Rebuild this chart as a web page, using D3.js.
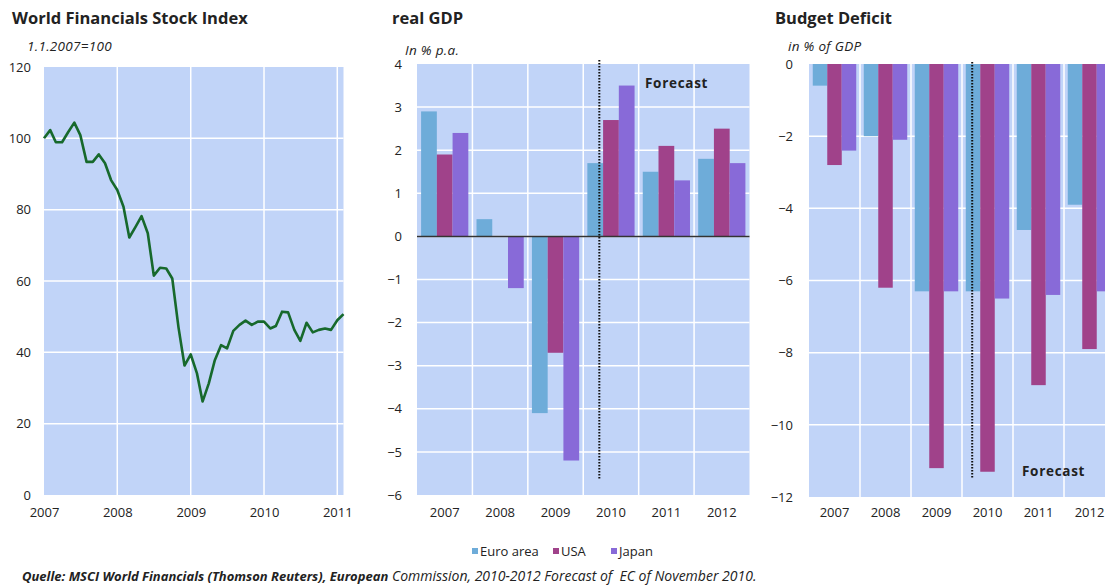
<!DOCTYPE html>
<html><head><meta charset="utf-8">
<script src="https://cdn.jsdelivr.net/npm/d3@7"></script>
<style>
body{margin:0;background:#fff;}
svg{display:block;}
text{font-family:"Open Sans",sans-serif;fill:#222;white-space:pre;}
</style></head>
<body><svg id="c" width="1105" height="585"></svg>
<script>
// ---------- DATA ----------
const stockStart = "2007-01-01";
const stockValues = [100,102.3,98.9,98.9,101.7,104.4,100.9,93.4,93.4,95.5,93,88.3,85.5,80.8,72.2,75.2,78.2,73.4,61.5,63.7,63.5,60.7,47,36.3,39.4,34.1,26.2,31.3,37.8,42,41.1,46,47.7,48.9,47.7,48.6,48.6,46.7,47.4,51.4,51.2,46.3,43.2,48.3,45.6,46.3,46.7,46.3,49,50.7];
const stockYTicks = [0,20,40,60,80,100,120];
const stockXTicks = ["2007","2008","2009","2010","2011"];

const years = ["2007","2008","2009","2010","2011","2012"];
const seriesNames = ["Euro area","USA","Japan"];
const gdpEuro  = [2.9, 0.4, -4.1, 1.7, 1.5, 1.8];
const gdpUSA   = [1.9, 0.0, -2.7, 2.7, 2.1, 2.5];
const gdpJapan = [2.4, -1.2, -5.2, 3.5, 1.3, 1.7];
const gdpTicks = [-6,-5,-4,-3,-2,-1,0,1,2,3,4];

const defEuro  = [-0.6, -2.0, -6.3, -6.3, -4.6, -3.9];
const defUSA   = [-2.8, -6.2, -11.2, -11.3, -8.9, -7.9];
const defJapan = [-2.4, -2.1, -6.3, -6.5, -6.4, -6.3];
const defTicks = [-12,-10,-8,-6,-4,-2,0];

// ---------- STYLE ----------
const colors = {"Euro area":"#6eacd9","USA":"#a0428a","Japan":"#886ad8"};
const bg = "#c1d4f8";
const svg = d3.select("#c");
const TITLE_FS = 16.5, SUB_FS = 13.5, TICK_FS = 13;

// ---------- LEFT PANEL: line ----------
(function(){
  const L=44,R=343.5,T=67,B=495;
  const parse = d3.timeParse("%Y-%m-%d");
  const start = parse(stockStart);
  const data = stockValues.map((v,i)=>({date:d3.timeMonth.offset(start,i),value:v}));
  const x = d3.scaleTime().domain([start, d3.timeMonth.offset(start, stockValues.length-1)]).range([L,R]);
  const y = d3.scaleLinear().domain([0,120]).range([B,T]);
  const g = svg.append("g");
  g.append("rect").attr("x",L).attr("y",T).attr("width",R-L).attr("height",B-T).attr("fill",bg);
  g.selectAll(".hg").data(stockYTicks.filter(t=>t>0&&t<120)).enter().append("line")
    .attr("x1",L).attr("x2",R).attr("y1",d=>y(d)).attr("y2",d=>y(d)).attr("stroke","#fff").attr("stroke-width",1.5);
  g.selectAll(".vg").data(stockXTicks.slice(1)).enter().append("line")
    .attr("x1",d=>x(parse(d+"-01-01"))).attr("x2",d=>x(parse(d+"-01-01"))).attr("y1",T).attr("y2",B)
    .attr("stroke","#fff").attr("stroke-width",1.5);
  const ya = d3.axisLeft(y).tickValues(stockYTicks).tickSize(0).tickPadding(0);
  const ay = g.append("g").attr("transform","translate(31,0)").call(ya);
  ay.select(".domain").remove();
  ay.selectAll("text").attr("font-size",TICK_FS).attr("font-family","Open Sans").attr("fill","#222");
  const xa = d3.axisBottom(x).tickValues(stockXTicks.map(d=>parse(d+"-01-01"))).tickFormat(d3.timeFormat("%Y")).tickSize(0).tickPadding(0);
  const ax = g.append("g").attr("transform","translate(0,508)").call(xa);
  ax.select(".domain").remove();
  ax.selectAll("text").attr("font-size",TICK_FS).attr("font-family","Open Sans").attr("fill","#222");
  g.append("path").datum(data).attr("fill","none").attr("stroke","#17692c").attr("stroke-width",2.6)
    .attr("stroke-linejoin","round")
    .attr("d",d3.line().x(d=>x(d.date)).y(d=>y(d.value)));
  svg.append("text").attr("x",12).attr("y",24).attr("font-size",TITLE_FS).attr("font-weight","bold").text("World Financials Stock Index");
  svg.append("text").attr("x",27).attr("y",51).attr("font-size",SUB_FS).attr("font-style","italic").attr("letter-spacing",0.3).text("1.1.2007=100");
})();

// ---------- BAR PANELS ----------
function barPanel(o){
  const x = d3.scaleBand().domain(years).range([o.L,o.R]).paddingInner(0).paddingOuter(0);
  const x1 = d3.scaleBand().domain(seriesNames).range([0,x.bandwidth()]).paddingInner(0).paddingOuter(0.26);
  const y = d3.scaleLinear().domain(o.domain).range([o.B,o.T]);
  const g = svg.append("g");
  g.append("rect").attr("x",o.L).attr("y",o.T).attr("width",o.R-o.L).attr("height",o.B-o.T).attr("fill",bg);
  g.selectAll(".hg").data(o.ticks.filter(t=>t>o.domain[0]&&t<o.domain[1])).enter().append("line")
    .attr("x1",o.L).attr("x2",o.R).attr("y1",d=>y(d)).attr("y2",d=>y(d)).attr("stroke","#fff").attr("stroke-width",1.5);
  g.selectAll(".vg").data(years.slice(1)).enter().append("line")
    .attr("x1",d=>x(d)).attr("x2",d=>x(d)).attr("y1",o.T).attr("y2",o.B).attr("stroke","#fff").attr("stroke-width",1.5);
  const rows = [];
  years.forEach((yr,i)=>seriesNames.forEach((s,j)=>rows.push({yr,s,v:o.series[j][i]})));
  g.selectAll(".bar").data(rows.filter(d=>d.v!==0)).enter().append("rect")
    .attr("x",d=>x(d.yr)+x1(d.s)).attr("width",x1.bandwidth())
    .attr("y",d=>y(Math.max(0,d.v))).attr("height",d=>Math.abs(y(d.v)-y(0)))
    .attr("fill",d=>colors[d.s]);
  if(o.zeroLine){
    g.append("line").attr("x1",o.L).attr("x2",o.R).attr("y1",y(0)).attr("y2",y(0)).attr("stroke","#333").attr("stroke-width",1.5);
  }
  const fx = x("2010")+o.fcFrac*x.bandwidth();
  g.append("line").attr("x1",fx).attr("x2",fx).attr("y1",o.fcTop).attr("y2",o.fcBot)
    .attr("stroke","#111").attr("stroke-width",2).attr("stroke-dasharray","1.6,1.4");
  g.append("text").attr("x",o.fcX).attr("y",o.fcY).attr("font-size",13.5).attr("font-weight","bold")
    .attr("letter-spacing",0.7).text("Forecast");
  const ya = d3.axisLeft(y).tickValues(o.ticks).tickSize(0).tickPadding(0);
  const ay = g.append("g").attr("transform",`translate(${o.labX},0)`).call(ya);
  ay.select(".domain").remove();
  ay.selectAll("text").attr("font-size",TICK_FS).attr("font-family","Open Sans").attr("fill","#222");
  const xa = d3.axisBottom(x).tickSize(0).tickPadding(0);
  const ax = g.append("g").attr("transform","translate(0,508)").call(xa);
  ax.select(".domain").remove();
  ax.selectAll("text").attr("font-size",TICK_FS).attr("font-family","Open Sans").attr("fill","#222");
  svg.append("text").attr("x",o.titleX).attr("y",24).attr("font-size",TITLE_FS).attr("font-weight","bold").text(o.title);
  svg.append("text").attr("x",o.subX).attr("y",o.subY).attr("font-size",SUB_FS).attr("font-style","italic").attr("letter-spacing",0.3).text(o.sub);
}

barPanel({L:417,R:749.5,T:64,B:495,domain:[-6,4],ticks:gdpTicks,series:[gdpEuro,gdpUSA,gdpJapan],
  zeroLine:true,fcFrac:0.29,fcTop:60,fcBot:479,fcX:645,fcY:88,labX:402,
  title:"real GDP",titleX:392,sub:"In % p.a.",subX:405,subY:55});

barPanel({L:809,R:1115,T:64,B:497,domain:[-12,0],ticks:defTicks,series:[defEuro,defUSA,defJapan],
  zeroLine:false,fcFrac:0.2,fcTop:62,fcBot:479,fcX:1022,fcY:476,labX:793,
  title:"Budget Deficit",titleX:775,sub:"in % of GDP",subX:788,subY:51});

// ---------- LEGEND ----------
const legX = [472,553,611];
const leg = svg.append("g");
seriesNames.forEach((s,i)=>{
  leg.append("rect").attr("x",legX[i]).attr("y",548).attr("width",6).attr("height",6).attr("fill",colors[s]);
  leg.append("text").attr("x",legX[i]+8).attr("y",556).attr("font-size",13).text(s);
});

// ---------- FOOTER ----------
const ft = svg.append("text").attr("x",22).attr("y",581).attr("font-style","italic");
ft.append("tspan").attr("font-weight","bold").attr("font-size",13).text("Quelle: MSCI World Financials (Thomson Reuters), European");
ft.append("tspan").attr("font-size",14).text(" Commission, 2010-2012 Forecast of  EC of November 2010.");
</script></body></html>
